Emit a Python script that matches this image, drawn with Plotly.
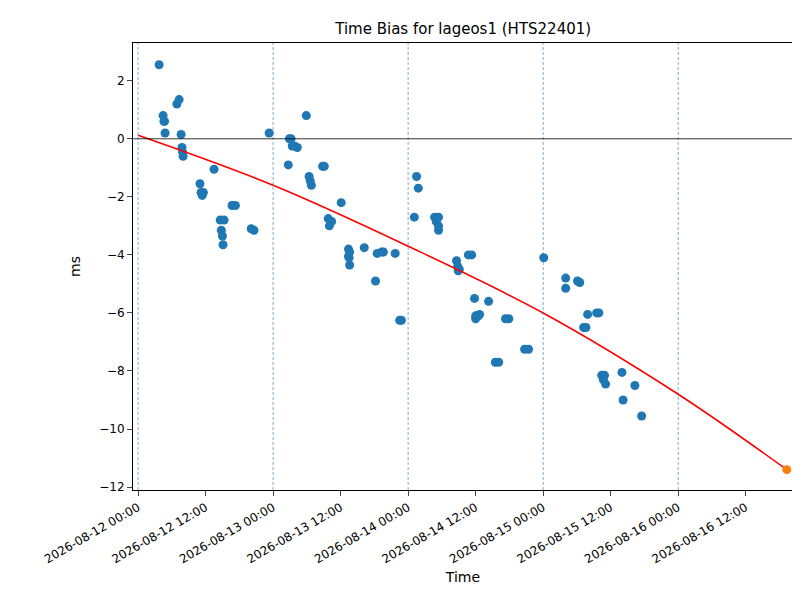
import pandas as pd
import plotly.graph_objects as go

start = pd.Timestamp("2026-08-12 00:00")

# observation times (hours after start) and time bias (ms)
obs_hours = [3.74, 4.45, 4.6, 4.7, 4.8, 6.9, 7.3, 7.65, 7.8, 7.9, 8.0,
             11.0, 11.2, 11.4, 11.6, 13.5, 14.6, 14.8, 15.0, 15.1, 15.3,
             16.7, 17.3, 20.1, 20.6, 23.3, 26.7, 26.9, 27.2, 27.4, 27.8, 28.3,
             29.9, 30.4, 30.6, 30.8, 32.8, 33.1, 33.8, 34.0, 34.4, 36.1,
             37.4, 37.4, 37.6, 37.5, 37.6, 40.2, 42.2, 42.5, 43.3, 43.6, 45.7,
             46.5, 46.8, 49.1, 49.5, 49.8, 52.7, 53.0, 53.4, 53.4, 53.4,
             56.6, 56.8, 57.1, 56.9, 58.7, 59.3, 59.8, 60.0, 60.5, 60.0, 60.7,
             62.3, 63.5, 64.1, 65.3, 65.9, 68.7, 69.4, 72.1, 76.0, 76.0,
             78.1, 78.5, 79.9, 79.2, 79.6, 81.5, 81.9, 82.4, 82.9, 83.1, 82.7,
             86.0, 86.2, 88.3, 89.5]
obs_bias = [2.55, 0.8, 0.6, 0.6, 0.2, 1.2, 1.35, 0.15, -0.3, -0.45, -0.6,
            -1.55, -1.85, -1.95, -1.85, -1.05, -2.8, -3.15, -3.35, -3.65, -2.8,
            -2.3, -2.3, -3.1, -3.15, 0.2, -0.9, 0.0, 0.0, -0.25, -0.25, -0.3,
            0.8, -1.3, -1.45, -1.6, -0.95, -0.95, -2.75, -3.0, -2.85, -2.2,
            -3.8, -4.05, -4.35, -4.1, -3.9, -3.75, -4.9, -3.95, -3.9, -3.9, -3.95,
            -6.25, -6.25, -2.7, -1.3, -1.7, -2.7, -2.85, -2.7, -3.15, -3.0,
            -4.2, -4.4, -4.5, -4.55, -4.0, -4.0, -5.5, -6.1, -6.1, -6.2, -6.05,
            -5.6, -7.7, -7.7, -6.2, -6.2, -7.25, -7.25, -4.1, -4.8, -5.15,
            -4.9, -4.95, -6.05, -6.5, -6.5, -6.0, -6.0, -8.15, -8.15, -8.45, -8.3,
            -8.05, -9.0, -8.5, -9.55]

# fitted trend
fit_hours = [0, 24, 48, 72, 96, 115.3]
fit_bias = [0.12, -1.6, -3.7, -6.0, -8.8, -11.4]

pred_hours = [115.3]
pred_bias = [-11.4]

tick_hours = list(range(0, 109, 12))
day_hours = [0, 24, 48, 72, 96]

def to_time(hours):
    return [start + pd.Timedelta(hours=h) for h in hours]

fig = go.Figure()
fig.add_trace(go.Scatter(x=to_time(obs_hours), y=obs_bias, mode="markers",
                         marker=dict(color="#1f77b4", size=9)))
fig.add_trace(go.Scatter(x=to_time(fit_hours), y=fit_bias, mode="lines",
                         line=dict(color="red", width=1.6, shape="spline")))
fig.add_trace(go.Scatter(x=to_time(pred_hours), y=pred_bias, mode="markers",
                         marker=dict(color="#ff7f0e", size=9)))

for t in to_time(day_hours):
    fig.add_vline(x=t, line=dict(color="#1f77b4", width=0.6, dash="3px,2px"))
fig.add_hline(y=0, line=dict(color="black", width=0.8))

ticks = to_time(tick_hours)
fig.update_xaxes(range=to_time([-0.9, 116.4]), tickvals=ticks,
                 ticktext=[t.strftime("%Y-%m-%d %H:%M") for t in ticks],
                 tickangle=-30, showgrid=False, zeroline=False, automargin=False,
                 ticks="outside", showline=True, linecolor="black", mirror=True,
                 title=dict(text="Time", standoff=6))
fig.update_yaxes(range=[-12.1, 3.3], tickvals=[2, 0, -2, -4, -6, -8, -10, -12],
                 ticktext=["2", "0", "−2", "−4", "−6", "−8", "−10", "−12"],
                 showgrid=False, zeroline=False, ticks="outside", showline=True,
                 automargin=False, linecolor="black", mirror=True, title="ms")
fig.update_layout(width=800, height=600, showlegend=False,
                  plot_bgcolor="white", paper_bgcolor="white",
                  font=dict(family="DejaVu Sans", size=12, color="black"),
                  title=dict(text="Time Bias for lageos1 (HTS22401)", x=0.569,
                             xanchor="center", y=0.965, yanchor="middle",
                             font=dict(size=15)),
                  margin=dict(l=125, r=15, t=35, b=118))
fig.write_html("out.html")
